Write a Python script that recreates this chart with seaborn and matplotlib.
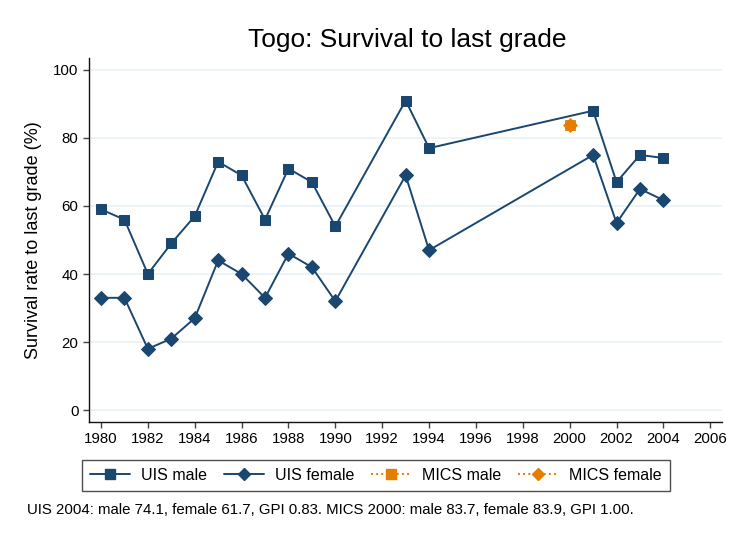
import matplotlib
matplotlib.use("Agg")
import matplotlib.pyplot as plt
import seaborn as sns
import pandas as pd
from matplotlib.lines import Line2D

uis_years = [1980, 1981, 1982, 1983, 1984, 1985, 1986, 1987, 1988, 1989, 1990, 1993, 1994, 2001, 2002, 2003, 2004]
uis_male = [59, 56, 40, 49, 57, 73, 69, 56, 71, 67, 54, 91, 77, 88, 67, 75, 74.1]
uis_female = [33, 33, 18, 21, 27, 44, 40, 33, 46, 42, 32, 69, 47, 75, 55, 65, 61.7]
mics_years = [2000]
mics_male = [83.7]
mics_female = [83.9]

navy = "#1a476f"
orange = "#e37e00"

sns.set_style("white")
plt.rcParams['font.family'] = ['Liberation Sans', 'DejaVu Sans']
plt.rcParams['text.color'] = 'black'
plt.rcParams['axes.labelcolor'] = 'black'
plt.rcParams['xtick.color'] = 'black'
plt.rcParams['ytick.color'] = 'black'

uis = pd.DataFrame({"year": uis_years, "male": uis_male, "female": uis_female})
mics = pd.DataFrame({"year": mics_years, "male": mics_male, "female": mics_female})

fig = plt.figure(figsize=(7.31, 5.37), dpi=100)
ax = fig.add_axes([0.1218, 0.2142, 0.8659, 0.6778])

for y in range(0, 101, 20):
    ax.axhline(y, color="#eaf2f3", lw=1.2, zorder=0)

sns.lineplot(data=uis, x="year", y="male", ax=ax, color=navy, marker="s", markersize=7,
             markeredgecolor=navy, lw=1.4, zorder=3)
sns.lineplot(data=uis, x="year", y="female", ax=ax, color=navy, marker="D", markersize=7,
             markeredgecolor=navy, lw=1.4, zorder=3)
sns.scatterplot(data=mics, x="year", y="male", ax=ax, color=orange, marker="s", s=50,
                edgecolor=orange, zorder=4)
sns.scatterplot(data=mics, x="year", y="female", ax=ax, color=orange, marker="D", s=50,
                edgecolor=orange, zorder=4)

ax.set_xlim(1979.49, 2006.5)
ax.set_ylim(-3.5, 103.5)
ax.set_xticks(range(1980, 2007, 2))
ax.set_yticks(range(0, 101, 20))
ax.tick_params(axis="both", direction="out", length=4.5, width=1, color="#444444",
               labelsize=10.8, left=True, bottom=True, pad=3)
ax.set_xlabel("")
ax.set_ylabel("Survival rate to last grade (%)", fontsize=13, labelpad=8)
for side in ["top", "right"]:
    ax.spines[side].set_visible(False)
for side in ["left", "bottom"]:
    ax.spines[side].set_color("#111111")
    ax.spines[side].set_linewidth(1)

fig.text(0.557, 0.925, "Togo: Survival to last grade", ha="center", va="center", fontsize=19)

handles = [
    Line2D([], [], color=navy, marker="s", markersize=6.5, lw=1.4),
    Line2D([], [], color=navy, marker="D", markersize=6.5, lw=1.4),
    Line2D([], [], color=orange, marker="s", markersize=6.5, lw=1.4, ls=":"),
    Line2D([], [], color=orange, marker="D", markersize=6.5, lw=1.4, ls=":"),
]
labels = ["UIS male", "UIS female", "MICS male", "MICS female"]
leg = fig.legend(handles, labels, loc="center", bbox_to_anchor=(0.514, 0.1145), ncol=4,
                 fontsize=11.5, frameon=True, fancybox=False, edgecolor="#222222",
                 handlelength=2.5, columnspacing=1.05, borderpad=0.5, handletextpad=0.7)
leg.get_frame().set_linewidth(1)

fig.text(0.037, 0.05, "UIS 2004: male 74.1, female 61.7, GPI 0.83. MICS 2000: male 83.7, female 83.9, GPI 1.00.",
         ha="left", va="center", fontsize=10.8)

fig.savefig("out.png", dpi=100)
